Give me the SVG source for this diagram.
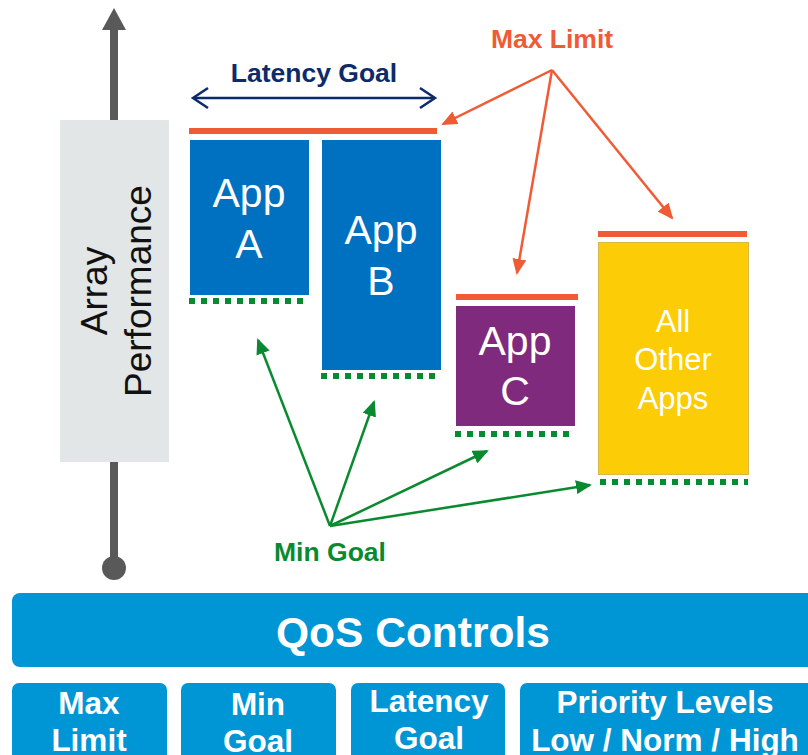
<svg xmlns="http://www.w3.org/2000/svg" width="808" height="755" viewBox="0 0 808 755">
<defs>
<style>
.t{font-family:"Liberation Sans",Arial,sans-serif;text-anchor:middle}
.app{fill:#fff;font-size:41px}
.b{font-weight:bold}
.lbl{font-size:26.5px;font-weight:bold}
.red{stroke:#f05a35;stroke-width:2.5;fill:none}
.grn{stroke:#0a8a30;stroke-width:2.5;fill:none}
.dots{stroke:#0a8a30;stroke-width:6;stroke-dasharray:6 6}
.maxl{stroke:#f05a35;stroke-width:6}
.qos{fill:#0096d6}
.wt{fill:#fff;font-size:31.5px;font-weight:bold}
</style>
<marker id="ar" markerWidth="16" markerHeight="14" refX="14" refY="7" orient="auto" markerUnits="userSpaceOnUse" viewBox="0 0 16 14"><path d="M0,0 L16,7 L0,14 z" fill="#f05a35"/></marker>
<marker id="ag" markerWidth="16" markerHeight="14" refX="14" refY="7" orient="auto" markerUnits="userSpaceOnUse" viewBox="0 0 16 14"><path d="M0,0 L16,7 L0,14 z" fill="#0a8a30"/></marker>
</defs>
<rect width="808" height="755" fill="#fff"/>

<g id="axis">
<line x1="114" y1="26" x2="114" y2="566" stroke="#595959" stroke-width="8"/>
<path d="M102,30 L114,8 L126,30 z" fill="#595959"/>
<circle cx="114" cy="568" r="12" fill="#595959"/>
</g>
<g id="array-performance">
<rect x="60" y="120" width="109" height="342" fill="#e3e6e6"/>
<g transform="translate(0,291) rotate(-90)">
<text class="t" x="0" y="107" font-size="37" fill="#111">Array</text>
<text class="t" x="0" y="151" font-size="37" fill="#111">Performance</text>
</g>
</g>

<g id="latency-goal">
<text class="t lbl" x="314" y="82" fill="#0d2a6b">Latency Goal</text>
<line x1="194" y1="98" x2="434" y2="98" stroke="#0d2a6b" stroke-width="2.5"/>
<path d="M208,88 L193,98 L208,108 M420,88 L435,98 L420,108" fill="none" stroke="#0d2a6b" stroke-width="2.5"/>
</g>

<g id="app-a">
<line class="maxl" x1="189" y1="131" x2="437" y2="131"/>
<rect x="190" y="140" width="119" height="155" fill="#0070c0"/>
<text class="t app" x="249" y="207">App</text>
<text class="t app" x="249" y="258">A</text>
<line class="dots" x1="189" y1="301" x2="305" y2="301"/>
</g>
<g id="app-b">
<rect x="322" y="140" width="119" height="230" fill="#0070c0"/>
<text class="t app" x="381" y="244">App</text>
<text class="t app" x="381" y="295">B</text>
<line class="dots" x1="321" y1="376" x2="437" y2="376"/>
</g>
<g id="app-c">
<line class="maxl" x1="456" y1="297" x2="578" y2="297"/>
<rect x="456" y="306" width="119" height="120" fill="#7f2a7d"/>
<text class="t app" x="515" y="355">App</text>
<text class="t app" x="515" y="405">C</text>
<line class="dots" x1="455" y1="434" x2="571" y2="434"/>
</g>
<g id="all-other-apps">
<line class="maxl" x1="598" y1="234" x2="747" y2="234"/>
<rect x="598.5" y="242.5" width="150" height="232" fill="#fccc06" stroke="#d9b84a" stroke-width="1"/>
<text class="t" x="673" y="332" font-size="31" fill="#fff">All</text>
<text class="t" x="673" y="370" font-size="31" fill="#fff">Other</text>
<text class="t" x="673" y="409" font-size="31" fill="#fff">Apps</text>
<line class="dots" x1="600" y1="482" x2="748" y2="482"/>
</g>

<g id="max-limit">
<text class="t lbl" x="552" y="48" fill="#f05a35">Max Limit</text>
</g>
<g id="min-goal">
<text class="t lbl" x="330" y="561" fill="#0a8a30">Min Goal</text>
</g>

<g id="connectors">
<line class="red" x1="552" y1="70" x2="443" y2="124" marker-end="url(#ar)"/>
<line class="red" x1="552" y1="70" x2="517" y2="273" marker-end="url(#ar)"/>
<line class="red" x1="552" y1="70" x2="672" y2="218" marker-end="url(#ar)"/>
<line class="grn" x1="330" y1="526" x2="258" y2="340" marker-end="url(#ag)"/>
<line class="grn" x1="330" y1="526" x2="374" y2="402" marker-end="url(#ag)"/>
<line class="grn" x1="330" y1="526" x2="487" y2="451" marker-end="url(#ag)"/>
<line class="grn" x1="330" y1="526" x2="590" y2="485" marker-end="url(#ag)"/>
</g>

<g id="qos-controls">
<rect class="qos" x="12" y="593" width="806" height="74" rx="8"/>
<text class="t b" x="413" y="647" font-size="42.5" fill="#fff">QoS Controls</text>
</g>
<g id="ctl-max-limit">
<rect class="qos" x="12" y="683" width="155" height="90" rx="7"/>
<text class="t wt" x="89" y="714">Max</text>
<text class="t wt" x="89" y="751">Limit</text>
</g>
<g id="ctl-min-goal">
<rect class="qos" x="181" y="683" width="155" height="90" rx="7"/>
<text class="t wt" x="258" y="715">Min</text>
<text class="t wt" x="258" y="752">Goal</text>
</g>
<g id="ctl-latency-goal">
<rect class="qos" x="351" y="683" width="154" height="90" rx="7"/>
<text class="t wt" x="429" y="712">Latency</text>
<text class="t wt" x="429" y="749">Goal</text>
</g>
<g id="ctl-priority">
<rect class="qos" x="520" y="683" width="300" height="90" rx="7"/>
<text class="t wt" x="665" y="713">Priority Levels</text>
<text class="t wt" x="665" y="751">Low / Norm / High</text>
</g>
</svg>
